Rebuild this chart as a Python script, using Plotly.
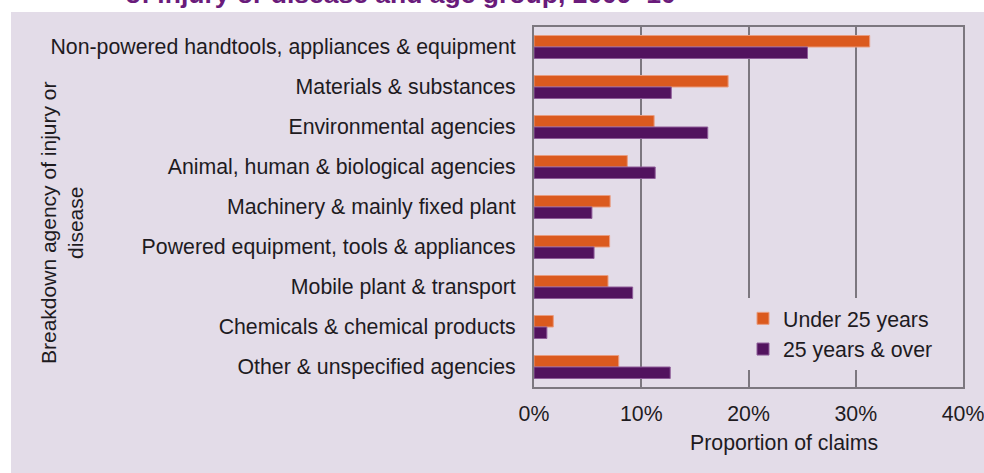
import plotly.graph_objects as go

# Breakdown agency categories, top to bottom
categories = [
    "Non-powered handtools, appliances & equipment",
    "Materials & substances",
    "Environmental agencies",
    "Animal, human & biological agencies",
    "Machinery & mainly fixed plant",
    "Powered equipment, tools & appliances",
    "Mobile plant & transport",
    "Chemicals & chemical products",
    "Other & unspecified agencies",
]

# Proportion of claims (%) by age group
under_25 = [31.3, 18.1, 11.2, 8.7, 7.1, 7.05, 6.9, 1.8, 7.9]
age_25_over = [25.5, 12.8, 16.2, 11.3, 5.4, 5.6, 9.2, 1.2, 12.7]

series_names = ["Under 25 years", "25 years & over"]
x_ticks = [0, 10, 20, 30, 40]
x_tick_labels = ["0%", "10%", "20%", "30%", "40%"]

ORANGE = "#DB5A1E"
PURPLE = "#52135E"
LILAC = "#E3DCE8"
GRID = "#7C777F"
TEXT = "#1E1B1F"
FONT = "Arial, Liberation Sans, sans-serif"
FS = 21.3

fig = go.Figure()
fig.add_trace(go.Bar(
    y=categories, x=under_25, orientation="h", name=series_names[0],
    marker=dict(color=ORANGE, line=dict(color="#E99C7F", width=1)),
))
fig.add_trace(go.Bar(
    y=categories, x=age_25_over, orientation="h", name=series_names[1],
    marker=dict(color=PURPLE, line=dict(color="#8E5C99", width=1)),
))

W, H = 984, 473
L, R, T, B = 534, 21, 27, 86
pw, ph = W - L - R, H - T - B


def px_x(x):
    return (x - L) / pw


def px_y(y):
    return (H - B - y) / ph


fig.update_layout(
    width=W, height=H,
    margin=dict(l=L, r=R, t=T, b=B, pad=0, autoexpand=False),
    paper_bgcolor="white",
    plot_bgcolor=LILAC,
    barmode="group",
    bargap=0.425,
    bargroupgap=0,
    font=dict(family=FONT, size=FS, color=TEXT),
    showlegend=True,
    legend=dict(
        x=px_x(743), y=px_y(298), xanchor="left", yanchor="top",
        bgcolor=LILAC, borderwidth=0,
        font=dict(family=FONT, size=FS, color=TEXT),
        traceorder="normal",
    ),
    xaxis=dict(
        range=[0, 40], tickvals=x_ticks, ticktext=x_tick_labels,
        showgrid=True, gridcolor=GRID, gridwidth=2,
        zeroline=False,
        showline=True, linecolor=GRID, linewidth=2, mirror=True,
        ticks="outside", ticklen=6, tickcolor="rgba(0,0,0,0)",
        ticklabeloverflow="allow", automargin=False,
        tickfont=dict(family=FONT, size=FS, color=TEXT),
        fixedrange=True,
    ),
    yaxis=dict(
        autorange="reversed",
        showgrid=False, zeroline=False,
        showline=True, linecolor=GRID, linewidth=2, mirror=True,
        ticks="outside", ticklen=12, tickcolor="rgba(0,0,0,0)",
        automargin=False,
        tickfont=dict(family=FONT, size=FS, color=TEXT),
        fixedrange=True,
    ),
    shapes=[
        dict(type="rect", xref="paper", yref="paper",
             x0=px_x(11), x1=1.2, y0=-0.5, y1=px_y(12),
             fillcolor=LILAC, line=dict(width=0), layer="below"),
    ],
    annotations=[
        dict(text="Breakdown agency of injury or<br>disease",
             xref="paper", yref="paper", x=px_x(62), y=px_y(223),
             xanchor="center", yanchor="middle", textangle=-90,
             showarrow=False, font=dict(family=FONT, size=21, color=TEXT)),
        dict(text="Proportion of claims",
             xref="paper", yref="paper", x=px_x(784), y=px_y(443),
             xanchor="center", yanchor="middle",
             showarrow=False, font=dict(family=FONT, size=FS, color=TEXT)),
        dict(text="<b>of injury or disease and age group, 2009–10</b>",
             xref="paper", yref="paper", x=px_x(123), y=px_y(11),
             xanchor="left", yanchor="bottom",
             showarrow=False, font=dict(family=FONT, size=26.5, color="#6A1B7B")),
    ],
)

fig.write_html("out.html")
